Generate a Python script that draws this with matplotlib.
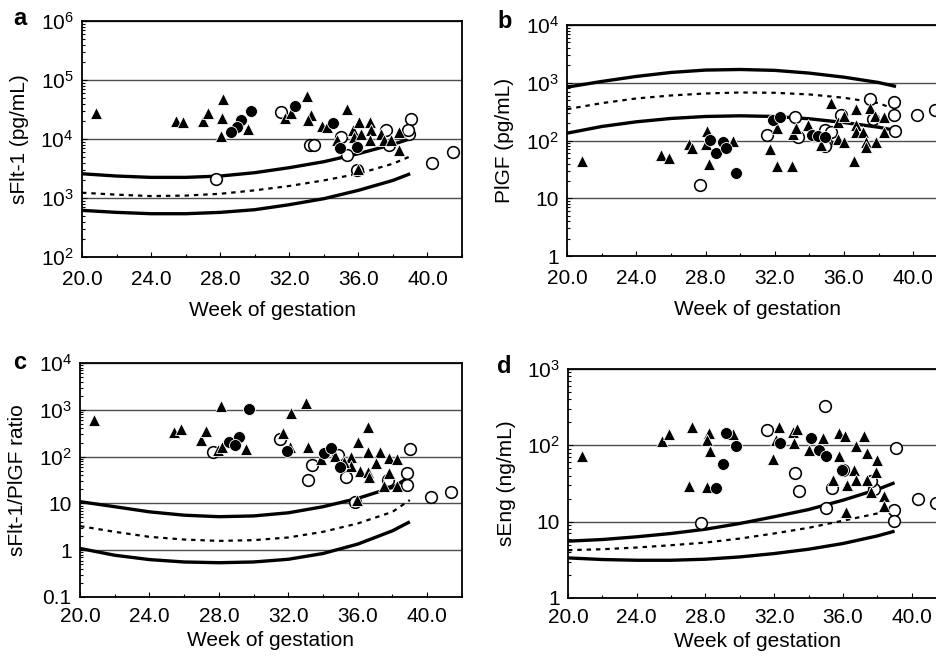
"""
Four-panel chart: sFlt-1, PlGF, sFlt-1/PlGF ratio and sEng against week of
gestation, with reference curves and individual measurements (log scale).
"""

import matplotlib
matplotlib.use("Agg")
import matplotlib.pyplot as plt
from matplotlib.ticker import MultipleLocator, StrMethodFormatter, LogLocator, NullFormatter

plt.rcParams['font.family'] = ['Liberation Sans', 'DejaVu Sans']
plt.rcParams['font.size'] = 15
plt.rcParams['mathtext.fontset'] = 'custom'
plt.rcParams['mathtext.rm'] = 'Liberation Sans'
plt.rcParams['mathtext.default'] = 'regular'

# reference curves, read every 2 weeks
curve_weeks = [20, 22, 24, 26, 28, 30, 32, 34, 36, 38, 39]

# ---- panel a: sFlt-1 (pg/mL) ----
a_upper = [2580, 2360, 2240, 2240, 2360, 2690, 3270, 4130, 5640, 8130, 10100]
a_mid = [1230, 1140, 1080, 1100, 1180, 1350, 1600, 1990, 2580, 3820, 5080]
a_lower = [618, 571, 542, 542, 571, 634, 771, 975, 1350, 1990, 2580]
a_tri_x = [20.83, 25.45, 25.87, 27.01, 27.27, 28.14, 28.10, 28.02, 29.62, 31.75,
           32.08, 33.04, 33.24, 33.08, 33.91, 34.16, 35.36, 34.78, 35.71, 35.75,
           36.04, 36.14, 36.68, 36.71, 36.68, 37.29, 37.49, 37.87, 38.36, 38.36, 35.98]
a_tri_y = [27900, 20200, 19700, 20200, 27900, 47600, 22700, 11100, 15000, 23000,
           27600, 53600, 25200, 20700, 16600, 16000, 32700, 9750, 14400, 10800,
           19400, 12300, 19400, 14000, 9500, 12300, 9500, 9500, 13100, 6400, 3140]
a_dot_x = [29.78, 29.22, 29.00, 28.62, 32.31, 34.55, 34.94, 35.90]
a_dot_y = [29400, 20700, 16000, 13200, 35800, 18700, 7000, 7300]
a_open_x = [27.73, 31.50, 33.18, 33.43, 34.98, 35.36, 35.94, 37.58, 37.78, 39.03,
            38.94, 38.88, 40.29, 41.45]
a_open_y = [2070, 28700, 7800, 7800, 10800, 5300, 3020, 14000, 7800, 22100,
            12300, 14000, 3900, 6000]

# ---- panel b: PlGF (pg/mL) ----
b_upper = [841, 1054, 1288, 1510, 1660, 1700, 1640, 1470, 1250, 1010, 863]
b_mid_weeks = [20, 22, 24, 26, 28, 30, 32, 34, 36, 38, 38.5]
b_mid = [349, 444, 535, 603, 653, 679, 671, 628, 550, 444, 389]
b_lower = [134, 175, 211, 241, 261, 268, 261, 238, 205, 170, 149]
b_tri_x = [20.87, 25.44, 25.87, 27.02, 27.21, 28.08, 28.04, 28.17, 29.56, 32.10,
           31.71, 32.15, 33.00, 33.06, 33.25, 33.92, 34.69, 35.27, 35.65, 36.00,
           35.62, 36.00, 36.67, 36.67, 36.67, 37.10, 36.58, 37.25, 37.25, 37.48,
           37.77, 37.83, 38.31, 38.31]
b_tri_y = [45, 56, 49, 87, 74, 147, 87, 39, 99, 164,
           71, 36, 36, 129, 164, 187, 84, 444, 213, 268,
           107, 94, 349, 187, 143, 138, 44, 96, 77, 373,
           268, 96, 254, 138]
b_dot_x = [29.00, 28.60, 29.75, 28.27, 29.19, 31.90, 32.29, 34.12, 34.50, 34.88]
b_dot_y = [94, 62, 27, 103, 74, 228, 254, 125, 120, 114]
b_open_x = [27.69, 31.52, 33.15, 33.35, 34.88, 35.27, 34.98, 34.88, 35.85, 37.52,
            37.67, 38.87, 38.87, 38.96, 40.23, 41.25]
b_open_y = [17, 125, 251, 113, 153, 143, 90, 81, 279, 521,
            234, 469, 279, 147, 272, 340]

# ---- panel c: sFlt-1/PlGF ratio ----
c_upper = [10.9, 8.5, 6.6, 5.6, 5.2, 5.4, 6.3, 8.5, 12.8, 22, 37]
c_mid = [3.27, 2.47, 1.93, 1.69, 1.58, 1.64, 1.87, 2.47, 3.73, 6.6, 11.8]
c_lower = [1.09, 0.78, 0.63, 0.56, 0.54, 0.56, 0.64, 0.85, 1.35, 2.6, 4.05]
c_tri_x = [20.83, 25.41, 25.84, 26.99, 27.23, 28.11, 27.96, 28.15, 29.54, 33.03,
           32.14, 31.71, 32.10, 33.12, 33.89, 34.70, 35.63, 36.57, 35.99, 36.59,
           37.26, 37.82, 38.27, 37.07, 35.63, 36.11, 36.59, 36.63, 37.78, 37.50,
           38.27, 35.95, 35.18]
c_tri_y = [611, 343, 385, 228, 355, 1180, 139, 164, 144, 1390,
           849, 327, 158, 158, 89, 103, 100, 439, 203, 124,
           124, 92, 89, 72, 63, 50, 48, 36, 45, 23.5,
           23.5, 11.8, 78]
c_dot_x = [29.73, 28.59, 29.17, 28.92, 31.91, 34.03, 34.47, 34.95]
c_dot_y = [1050, 210, 268, 178, 134, 122, 156, 61]
c_open_x = [27.67, 31.52, 33.35, 33.16, 34.86, 35.34, 35.86, 39.00, 38.84, 38.84,
            40.23, 41.35, 37.73]
c_open_y = [124, 235, 66, 32, 109, 37, 10.9, 144, 45, 24.7,
            13.9, 17.8, 32]

# ---- panel d: sEng (ng/mL) ----
d_upper = [5.55, 5.83, 6.33, 7.0, 7.96, 9.46, 11.6, 14.4, 19.1, 26.4, 32.3]
d_mid = [4.23, 4.35, 4.58, 4.91, 5.32, 6.0, 7.0, 8.3, 10.3, 12.8, 14.9]
d_lower = [3.35, 3.19, 3.12, 3.12, 3.22, 3.45, 3.82, 4.35, 5.17, 6.5, 7.5]
d_tri_x = [20.83, 25.45, 25.88, 27.24, 27.04, 28.07, 28.21, 28.11, 28.26, 29.60,
           32.26, 32.10, 33.07, 33.33, 33.17, 34.01, 34.82, 35.75, 36.14, 37.21,
           36.76, 37.38, 37.98, 35.75, 36.66, 36.76, 37.92, 35.40, 36.24, 37.40,
           37.63, 38.41, 38.41, 36.18, 31.91]
d_tri_y = [72, 115, 139, 172, 29, 28.6, 143, 119, 84, 140,
           172, 119, 148, 163, 106, 86, 123, 146, 134, 132,
           98, 80, 64, 73, 47, 35, 45, 35, 30, 35,
           24.6, 21.6, 16, 13.5, 67]
d_dot_x = [29.18, 29.80, 29.04, 28.59, 32.34, 34.14, 34.59, 35.01, 35.95]
d_dot_y = [143, 98, 57, 28, 106, 123, 86, 72, 47]
d_open_x = [27.72, 34.98, 31.56, 33.23, 33.46, 35.36, 35.01, 39.09, 40.35, 41.42,
            38.99, 38.99, 37.83, 37.63, 35.98]
d_open_y = [9.5, 330, 158, 44, 25, 28, 15.3, 91, 20, 17.3,
            14.4, 10.1, 26.4, 34, 47]

x_ticks = [20, 24, 28, 32, 36, 40]


def draw_panel(ax, upper, mid, lower, mid_weeks, tri, dot, opn,
               yticks, yticklabels, ylabel, xpad=9, xlabelpad=9):
    ax.set_yscale('log')
    ax.set_xlim(20, 42)
    ax.set_ylim(yticks[0], yticks[-1])

    # reference curves
    ax.plot(curve_weeks, upper, color='black', lw=2.4, solid_capstyle='butt', zorder=2)
    ax.plot(mid_weeks, mid, color='black', lw=1.6, linestyle=(0, (2, 2.2)), zorder=2)
    ax.plot(curve_weeks, lower, color='black', lw=2.4, solid_capstyle='butt', zorder=2)

    # measurements
    ax.plot(opn[0], opn[1], 'o', ms=8.4, mfc='white', mec='black', mew=1.15,
            ls='none', zorder=3)
    ax.plot(tri[0], tri[1], '^', ms=8.4, mfc='black', mec='white', mew=0.6,
            ls='none', zorder=4)
    ax.plot(dot[0], dot[1], 'o', ms=8.6, mfc='black', mec='white', mew=0.6,
            ls='none', zorder=5)

    ax.set_yticks(yticks)
    ax.set_yticklabels(yticklabels)
    ax.yaxis.set_minor_locator(LogLocator(base=10, subs=range(2, 10), numticks=20))
    ax.yaxis.set_minor_formatter(NullFormatter())
    ax.xaxis.set_major_locator(MultipleLocator(4))
    ax.xaxis.set_minor_locator(MultipleLocator(2))
    ax.xaxis.set_major_formatter(StrMethodFormatter('{x:.1f}'))
    ax.set_xticks(x_ticks)

    ax.tick_params(which='both', direction='in', top=False, right=False, width=0.8)
    ax.tick_params(which='major', length=3.5, labelsize=15, pad=6)
    ax.tick_params(which='minor', length=2.5)
    ax.tick_params(axis='x', pad=xpad)

    ax.grid(axis='y', which='major', color='#4d4d4d', lw=1.0)
    ax.set_axisbelow(True)
    for s in ax.spines.values():
        s.set_linewidth(1.3)
        s.set_color('black')

    ax.set_xlabel('Week of gestation', fontsize=15, labelpad=xlabelpad)
    ax.set_ylabel(ylabel, fontsize=15, labelpad=8)


fig = plt.figure(figsize=(9.36, 6.59), dpi=100)

ax_a = fig.add_axes([0.0876, 0.610, 0.406, 0.358])
ax_b = fig.add_axes([0.6058, 0.6115, 0.407, 0.3505])
ax_c = fig.add_axes([0.0855, 0.0941, 0.408, 0.355])
ax_d = fig.add_axes([0.6068, 0.0926, 0.404, 0.3475])

draw_panel(ax_a, a_upper, a_mid, a_lower, curve_weeks,
           (a_tri_x, a_tri_y), (a_dot_x, a_dot_y), (a_open_x, a_open_y),
           [1e2, 1e3, 1e4, 1e5, 1e6],
           [r'$10^2$', r'$10^3$', r'$10^4$', r'$10^5$', r'$10^6$'],
           'sFlt-1 (pg/mL)')
draw_panel(ax_b, b_upper, b_mid, b_lower, b_mid_weeks,
           (b_tri_x, b_tri_y), (b_dot_x, b_dot_y), (b_open_x, b_open_y),
           [1, 10, 1e2, 1e3, 1e4],
           ['1', '10', r'$10^2$', r'$10^3$', r'$10^4$'],
           'PlGF (pg/mL)')
draw_panel(ax_c, c_upper, c_mid, c_lower, curve_weeks,
           (c_tri_x, c_tri_y), (c_dot_x, c_dot_y), (c_open_x, c_open_y),
           [0.1, 1, 10, 1e2, 1e3, 1e4],
           ['0.1', '1', '10', r'$10^2$', r'$10^3$', r'$10^4$'],
           'sFlt-1/PlGF ratio', xpad=7, xlabelpad=4)
draw_panel(ax_d, d_upper, d_mid, d_lower, curve_weeks,
           (d_tri_x, d_tri_y), (d_dot_x, d_dot_y), (d_open_x, d_open_y),
           [1, 10, 1e2, 1e3],
           ['1', '10', r'$10^2$', r'$10^3$'],
           'sEng (ng/mL)', xpad=7, xlabelpad=4)

# panel letters
fig.text(0.014, 0.962, 'a', fontsize=17, fontweight='bold')
fig.text(0.532, 0.957, 'b', fontsize=17, fontweight='bold')
fig.text(0.014, 0.440, 'c', fontsize=17, fontweight='bold')
fig.text(0.531, 0.434, 'd', fontsize=17, fontweight='bold')

fig.savefig('out.png', dpi=100)
plt.close(fig)
